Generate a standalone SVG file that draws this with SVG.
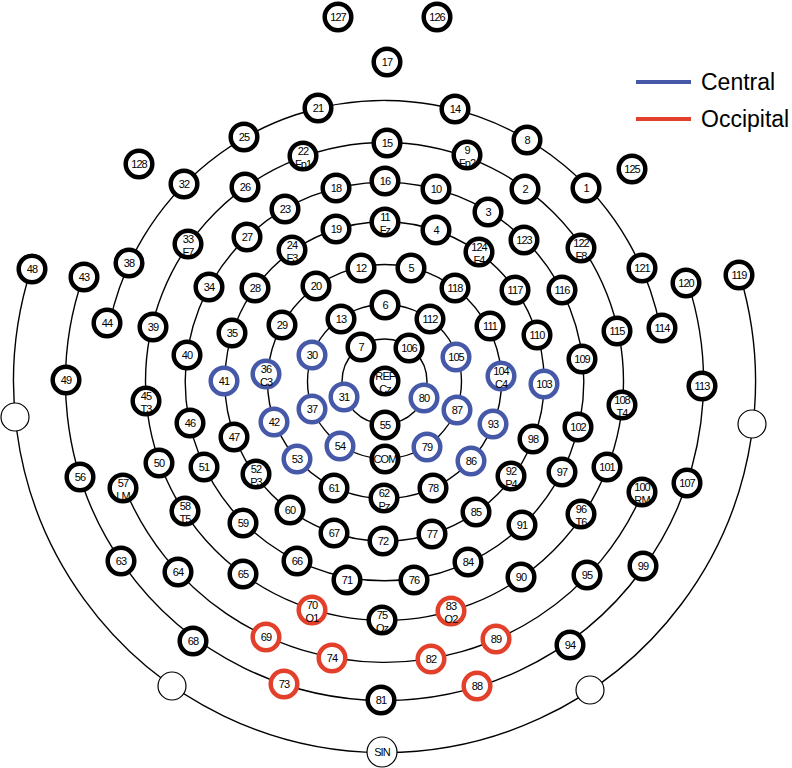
<svg xmlns="http://www.w3.org/2000/svg" width="792" height="768" viewBox="0 0 792 768">
<style>
.ring{fill:none;stroke:#000;stroke-width:1.4}
.n circle{fill:#fff;stroke:#000;stroke-width:4.5}
.b circle{stroke:#4659a8}
.r circle{stroke:#e2402b}
.e circle{fill:#fff;stroke:#000;stroke-width:1.2}
text{font-family:"Liberation Sans",Arial,sans-serif;font-size:11px;letter-spacing:-0.9px;text-anchor:middle;fill:#000}
.lg{font-size:23px;letter-spacing:0;text-anchor:start}
</style>
<rect width="792" height="768" fill="#fff"/>
<g id="connectors">
<circle class="ring" cx="384.5" cy="381.5" r="42.5"/>
<circle class="ring" cx="384.5" cy="381.5" r="77"/>
<circle class="ring" cx="384.5" cy="381.5" r="117"/>
<circle class="ring" cx="384.5" cy="381.5" r="159.7"/>
<circle class="ring" cx="384.5" cy="381.5" r="199.3"/>
<circle class="ring" cx="384.5" cy="381.5" r="239"/>
<path class="ring" d="M109.5,323.5 A281,281 0 0 1 660.4,328.3"/>
<path class="ring" d="M124.3,487.5 A281,281 0 0 0 642.7,492.3"/>
<path class="ring" d="M83.2,276.7 A319,319 0 1 0 687.7,282.4"/>
<path class="ring" d="M31.1,268.7 A371,371 0 1 0 739.8,274.8"/>
</g>
<g id="legend">
<line x1="636" y1="82" x2="691" y2="82" stroke="#4659a8" stroke-width="4"/>
<line x1="636" y1="119" x2="691" y2="119" stroke="#e2402b" stroke-width="4"/>
<text class="lg" x="701" y="90">Central</text>
<text class="lg" x="701" y="127">Occipital</text>
</g>
<g id="nodes">
<g id="n127" class="n" transform="translate(338,17)"><circle r="13.3"/><text y="4">127</text></g>
<g id="n126" class="n" transform="translate(437,17)"><circle r="13.3"/><text y="4">126</text></g>
<g id="n17" class="n" transform="translate(387,62)"><circle r="13.3"/><text y="4">17</text></g>
<g id="n128" class="n" transform="translate(139,164)"><circle r="13.3"/><text y="4">128</text></g>
<g id="n125" class="n" transform="translate(632,169)"><circle r="13.3"/><text y="4">125</text></g>

<g id="n44" class="n" transform="translate(107,323)"><circle r="13.3"/><text y="4">44</text></g>
<g id="n38" class="n" transform="translate(129,263)"><circle r="13.3"/><text y="4">38</text></g>
<g id="n32" class="n" transform="translate(184,184)"><circle r="13.3"/><text y="4">32</text></g>
<g id="n25" class="n" transform="translate(244,137)"><circle r="13.3"/><text y="4">25</text></g>
<g id="n21" class="n" transform="translate(318,108)"><circle r="13.3"/><text y="4">21</text></g>
<g id="n14" class="n" transform="translate(455,109)"><circle r="13.3"/><text y="4">14</text></g>
<g id="n8" class="n" transform="translate(527,140)"><circle r="13.3"/><text y="4">8</text></g>
<g id="n1" class="n" transform="translate(586,188)"><circle r="13.3"/><text y="4">1</text></g>
<g id="n121" class="n" transform="translate(642,268)"><circle r="13.3"/><text y="4">121</text></g>
<g id="n114" class="n" transform="translate(662,328)"><circle r="13.3"/><text y="4">114</text></g>

<g id="n15" class="n" transform="translate(387,143)"><circle r="13.3"/><text y="4">15</text></g>
<g id="n9" class="n" transform="translate(467,155)"><circle r="13.3"/><text y="-1.5">9</text><text y="11.5">Fp2</text></g>
<g id="n2" class="n" transform="translate(525,189)"><circle r="13.3"/><text y="4">2</text></g>
<g id="n122" class="n" transform="translate(581,248)"><circle r="13.3"/><text y="-1.5">122</text><text y="11.5">F8</text></g>
<g id="n115" class="n" transform="translate(617,331)"><circle r="13.3"/><text y="4">115</text></g>
<g id="n108" class="n" transform="translate(622,405)"><circle r="13.3"/><text y="-1.5">108</text><text y="11.5">T4</text></g>
<g id="n101" class="n" transform="translate(607,467)"><circle r="13.3"/><text y="4">101</text></g>
<g id="n96" class="n" transform="translate(581,514)"><circle r="13.3"/><text y="-1.5">96</text><text y="11.5">T6</text></g>
<g id="n90" class="n" transform="translate(521,577)"><circle r="13.3"/><text y="4">90</text></g>
<g id="n83" class="n r" transform="translate(451,611)"><circle r="13.3"/><text y="-1.5">83</text><text y="11.5">O2</text></g>
<g id="n75" class="n" transform="translate(382,620)"><circle r="13.3"/><text y="-1.5">75</text><text y="11.5">Oz</text></g>
<g id="n70" class="n r" transform="translate(312,610)"><circle r="13.3"/><text y="-1.5">70</text><text y="11.5">O1</text></g>
<g id="n65" class="n" transform="translate(243,574)"><circle r="13.3"/><text y="4">65</text></g>
<g id="n58" class="n" transform="translate(185,511)"><circle r="13.3"/><text y="-1.5">58</text><text y="11.5">T5</text></g>
<g id="n50" class="n" transform="translate(159,463)"><circle r="13.3"/><text y="4">50</text></g>
<g id="n45" class="n" transform="translate(146,401)"><circle r="13.3"/><text y="-1.5">45</text><text y="11.5">T3</text></g>
<g id="n39" class="n" transform="translate(153,327)"><circle r="13.3"/><text y="4">39</text></g>
<g id="n33" class="n" transform="translate(188,244)"><circle r="13.3"/><text y="-1.5">33</text><text y="11.5">F7</text></g>
<g id="n26" class="n" transform="translate(245,187)"><circle r="13.3"/><text y="4">26</text></g>
<g id="n22" class="n" transform="translate(303,156)"><circle r="13.3"/><text y="-1.5">22</text><text y="11.5">Fp1</text></g>

<g id="n16" class="n" transform="translate(385,181)"><circle r="13.3"/><text y="4">16</text></g>
<g id="n10" class="n" transform="translate(436,189)"><circle r="13.3"/><text y="4">10</text></g>
<g id="n3" class="n" transform="translate(488,212)"><circle r="13.3"/><text y="4">3</text></g>
<g id="n123" class="n" transform="translate(524,240)"><circle r="13.3"/><text y="4">123</text></g>
<g id="n116" class="n" transform="translate(562,290)"><circle r="13.3"/><text y="4">116</text></g>
<g id="n109" class="n" transform="translate(582,359)"><circle r="13.3"/><text y="4">109</text></g>
<g id="n102" class="n" transform="translate(578,427)"><circle r="13.3"/><text y="4">102</text></g>
<g id="n97" class="n" transform="translate(562,472)"><circle r="13.3"/><text y="4">97</text></g>
<g id="n91" class="n" transform="translate(522,525)"><circle r="13.3"/><text y="4">91</text></g>
<g id="n84" class="n" transform="translate(468,562)"><circle r="13.3"/><text y="4">84</text></g>
<g id="n76" class="n" transform="translate(414,580)"><circle r="13.3"/><text y="4">76</text></g>
<g id="n71" class="n" transform="translate(347,580)"><circle r="13.3"/><text y="4">71</text></g>
<g id="n66" class="n" transform="translate(297,561)"><circle r="13.3"/><text y="4">66</text></g>
<g id="n59" class="n" transform="translate(243,523)"><circle r="13.3"/><text y="4">59</text></g>
<g id="n51" class="n" transform="translate(204,467)"><circle r="13.3"/><text y="4">51</text></g>
<g id="n46" class="n" transform="translate(190,423)"><circle r="13.3"/><text y="4">46</text></g>
<g id="n40" class="n" transform="translate(187,355)"><circle r="13.3"/><text y="4">40</text></g>
<g id="n34" class="n" transform="translate(209,287)"><circle r="13.3"/><text y="4">34</text></g>
<g id="n27" class="n" transform="translate(247,237)"><circle r="13.3"/><text y="4">27</text></g>
<g id="n23" class="n" transform="translate(285,209)"><circle r="13.3"/><text y="4">23</text></g>
<g id="n18" class="n" transform="translate(336,188)"><circle r="13.3"/><text y="4">18</text></g>

<g id="n11" class="n" transform="translate(385,222)"><circle r="13.3"/><text y="-1.5">11</text><text y="11.5">Fz</text></g>
<g id="n4" class="n" transform="translate(436,230)"><circle r="13.3"/><text y="4">4</text></g>
<g id="n124" class="n" transform="translate(479,252)"><circle r="13.3"/><text y="-1.5">124</text><text y="11.5">F4</text></g>
<g id="n117" class="n" transform="translate(515,290)"><circle r="13.3"/><text y="4">117</text></g>
<g id="n110" class="n" transform="translate(537,335)"><circle r="13.3"/><text y="4">110</text></g>
<g id="n103" class="n b" transform="translate(544,384)"><circle r="13.3"/><text y="4">103</text></g>
<g id="n98" class="n" transform="translate(533,439)"><circle r="13.3"/><text y="4">98</text></g>
<g id="n92" class="n" transform="translate(511,476)"><circle r="13.3"/><text y="-1.5">92</text><text y="11.5">P4</text></g>
<g id="n85" class="n" transform="translate(476,512)"><circle r="13.3"/><text y="4">85</text></g>
<g id="n77" class="n" transform="translate(432,534)"><circle r="13.3"/><text y="4">77</text></g>
<g id="n72" class="n" transform="translate(383,541)"><circle r="13.3"/><text y="4">72</text></g>
<g id="n67" class="n" transform="translate(334,533)"><circle r="13.3"/><text y="4">67</text></g>
<g id="n60" class="n" transform="translate(290,510)"><circle r="13.3"/><text y="4">60</text></g>
<g id="n52" class="n" transform="translate(256,474)"><circle r="13.3"/><text y="-1.5">52</text><text y="11.5">P3</text></g>
<g id="n47" class="n" transform="translate(234,437)"><circle r="13.3"/><text y="4">47</text></g>
<g id="n41" class="n b" transform="translate(224,381)"><circle r="13.3"/><text y="4">41</text></g>
<g id="n35" class="n" transform="translate(232,333)"><circle r="13.3"/><text y="4">35</text></g>
<g id="n28" class="n" transform="translate(255,288)"><circle r="13.3"/><text y="4">28</text></g>
<g id="n24" class="n" transform="translate(292,250)"><circle r="13.3"/><text y="-1.5">24</text><text y="11.5">F3</text></g>
<g id="n19" class="n" transform="translate(336,229)"><circle r="13.3"/><text y="4">19</text></g>

<g id="n12" class="n" transform="translate(361,268)"><circle r="13.3"/><text y="4">12</text></g>
<g id="n5" class="n" transform="translate(411,268)"><circle r="13.3"/><text y="4">5</text></g>
<g id="n118" class="n" transform="translate(455,288)"><circle r="13.3"/><text y="4">118</text></g>
<g id="n111" class="n" transform="translate(490,326)"><circle r="13.3"/><text y="4">111</text></g>
<g id="n104" class="n b" transform="translate(501,376)"><circle r="13.3"/><text y="-1.5">104</text><text y="11.5">C4</text></g>
<g id="n93" class="n b" transform="translate(493,424)"><circle r="13.3"/><text y="4">93</text></g>
<g id="n86" class="n b" transform="translate(471,461)"><circle r="13.3"/><text y="4">86</text></g>
<g id="n78" class="n" transform="translate(433,488)"><circle r="13.3"/><text y="4">78</text></g>
<g id="n62" class="n" transform="translate(384,498)"><circle r="13.3"/><text y="-1.5">62</text><text y="11.5">Pz</text></g>
<g id="n61" class="n" transform="translate(334,488)"><circle r="13.3"/><text y="4">61</text></g>
<g id="n53" class="n b" transform="translate(297,459)"><circle r="13.3"/><text y="4">53</text></g>
<g id="n42" class="n b" transform="translate(274,422)"><circle r="13.3"/><text y="4">42</text></g>
<g id="n36" class="n b" transform="translate(266,374)"><circle r="13.3"/><text y="-1.5">36</text><text y="11.5">C3</text></g>
<g id="n29" class="n" transform="translate(282,325)"><circle r="13.3"/><text y="4">29</text></g>
<g id="n20" class="n" transform="translate(316,286)"><circle r="13.3"/><text y="4">20</text></g>

<g id="n6" class="n" transform="translate(385,305)"><circle r="13.3"/><text y="4">6</text></g>
<g id="n112" class="n" transform="translate(430,319)"><circle r="13.3"/><text y="4">112</text></g>
<g id="n105" class="n b" transform="translate(456,357)"><circle r="13.3"/><text y="4">105</text></g>
<g id="n87" class="n b" transform="translate(457,410)"><circle r="13.3"/><text y="4">87</text></g>
<g id="n79" class="n b" transform="translate(427,447)"><circle r="13.3"/><text y="4">79</text></g>
<g id="nCOM" class="n" transform="translate(385,459)"><circle r="13.3"/><text y="4">COM</text></g>
<g id="n54" class="n b" transform="translate(340,446)"><circle r="13.3"/><text y="4">54</text></g>
<g id="n37" class="n b" transform="translate(312,409)"><circle r="13.3"/><text y="4">37</text></g>
<g id="n30" class="n b" transform="translate(312,355)"><circle r="13.3"/><text y="4">30</text></g>
<g id="n13" class="n" transform="translate(341,319)"><circle r="13.3"/><text y="4">13</text></g>

<g id="n7" class="n" transform="translate(361,347)"><circle r="13.3"/><text y="4">7</text></g>
<g id="n106" class="n" transform="translate(409,348)"><circle r="13.3"/><text y="4">106</text></g>
<g id="n80" class="n b" transform="translate(424,398)"><circle r="13.3"/><text y="4">80</text></g>
<g id="n55" class="n" transform="translate(385,425)"><circle r="13.3"/><text y="4">55</text></g>
<g id="n31" class="n b" transform="translate(344,397)"><circle r="13.3"/><text y="4">31</text></g>
<g id="nREF" class="n" transform="translate(385,381)"><circle r="13.3"/><text y="-1.5">REF</text><text y="11.5">Cz</text></g>

<g id="n57" class="n" transform="translate(123,488)"><circle r="13.3"/><text y="-1.5">57</text><text y="11.5">LM</text></g>
<g id="n64" class="n" transform="translate(178,572)"><circle r="13.3"/><text y="4">64</text></g>
<g id="n69" class="n r" transform="translate(266,637)"><circle r="13.3"/><text y="4">69</text></g>
<g id="n74" class="n r" transform="translate(332,658)"><circle r="13.3"/><text y="4">74</text></g>
<g id="n82" class="n r" transform="translate(431,659)"><circle r="13.3"/><text y="4">82</text></g>
<g id="n89" class="n r" transform="translate(496,639)"><circle r="13.3"/><text y="4">89</text></g>
<g id="n95" class="n" transform="translate(587,575)"><circle r="13.3"/><text y="4">95</text></g>
<g id="n100" class="n" transform="translate(642,492)"><circle r="13.3"/><text y="-1.5">100</text><text y="11.5">RM</text></g>

<g id="n43" class="n" transform="translate(84,277)"><circle r="13.3"/><text y="4">43</text></g>
<g id="n49" class="n" transform="translate(66,380)"><circle r="13.3"/><text y="4">49</text></g>
<g id="n56" class="n" transform="translate(80,477)"><circle r="13.3"/><text y="4">56</text></g>
<g id="n63" class="n" transform="translate(121,561)"><circle r="13.3"/><text y="4">63</text></g>
<g id="n68" class="n" transform="translate(193,641)"><circle r="13.3"/><text y="4">68</text></g>
<g id="n73" class="n r" transform="translate(284,684)"><circle r="13.3"/><text y="4">73</text></g>
<g id="n81" class="n" transform="translate(381,700)"><circle r="13.3"/><text y="4">81</text></g>
<g id="n88" class="n r" transform="translate(477,686)"><circle r="13.3"/><text y="4">88</text></g>
<g id="n94" class="n" transform="translate(570,645)"><circle r="13.3"/><text y="4">94</text></g>
<g id="n99" class="n" transform="translate(643,566)"><circle r="13.3"/><text y="4">99</text></g>
<g id="n107" class="n" transform="translate(687,483)"><circle r="13.3"/><text y="4">107</text></g>
<g id="n113" class="n" transform="translate(702,386)"><circle r="13.3"/><text y="4">113</text></g>
<g id="n120" class="n" transform="translate(686,283)"><circle r="13.3"/><text y="4">120</text></g>

<g id="n48" class="n" transform="translate(32,269)"><circle r="13.3"/><text y="4">48</text></g>
<g id="e1" class="e" transform="translate(15,417)"><circle r="14"/></g>
<g id="e2" class="e" transform="translate(172,686)"><circle r="14"/></g>
<g id="nSIN" class="e" transform="translate(382,752)"><circle r="15"/><text y="4">SIN</text></g>
<g id="e3" class="e" transform="translate(590,690)"><circle r="14"/></g>
<g id="e4" class="e" transform="translate(752,424)"><circle r="14"/></g>
<g id="n119" class="n" transform="translate(739,275)"><circle r="13.3"/><text y="4">119</text></g>
</g>
</svg>
